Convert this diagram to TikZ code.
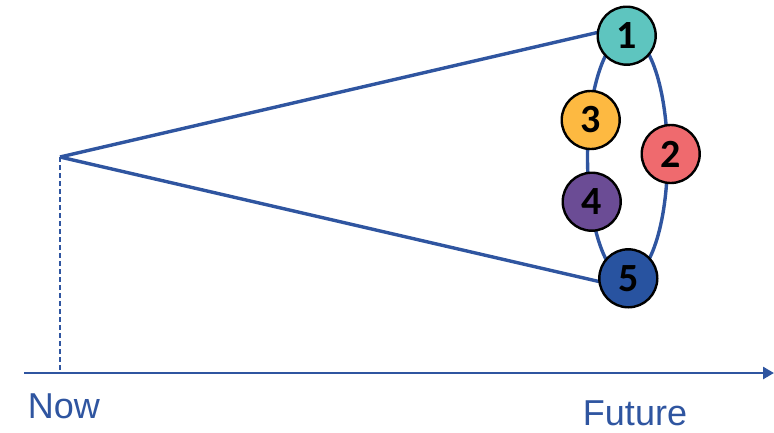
\documentclass[tikz,border=0pt]{standalone}
\usepackage{fontspec}
\setmainfont{Liberation Sans}
\newfontfamily\digitfont{Carlito}
\usetikzlibrary{arrows.meta,calc}

\definecolor{lineblue}{HTML}{2F55A0}
\definecolor{cteal}{HTML}{5EC5BF}
\definecolor{cyellow}{HTML}{FDB941}
\definecolor{cred}{HTML}{EF6A6E}
\definecolor{cpurple}{HTML}{6B4C95}
\definecolor{cnavy}{HTML}{2853A0}

\pgfdeclarelayer{back}
\pgfsetlayers{back,main}

\tikzset{
  scenario/.style={circle, draw=black, line width=2.4pt, minimum size=58pt,
    inner sep=0pt, fill=#1, text=black,
    font=\digitfont\bfseries\fontsize{40}{40}\selectfont},
  cone/.style={lineblue, line width=3.4pt},
  timeaxis/.style={lineblue, line width=2.6pt, -{Triangle[length=11pt,width=12pt]}},
  nowmark/.style={lineblue, line width=1.4pt, dash pattern=on 5pt off 3pt},
  axislabel/.style={text=lineblue, font=\fontsize{36}{36}\selectfont, anchor=base}
}

\begin{document}
\begin{tikzpicture}[x=1pt, y=-1pt]
  \useasboundingbox (0,0) rectangle (774,432);

  % time axis and the present moment
  \coordinate (axstart) at (24,373);
  \coordinate (axend) at (774,373);
  \coordinate (apex) at (60,157);
  \coordinate (nowfoot) at (60,373);

  % scenario nodes
  \node[scenario=cteal]   (n1) at (626.7,35.7)  {1};
  \node[scenario=cred]    (n2) at (670.7,154)   {2};
  \node[scenario=cyellow] (n3) at (590.7,120)   {3};
  \node[scenario=cpurple] (n4) at (591.7,201.7) {4};
  \node[scenario=cnavy]   (n5) at (628.3,278.3) {5};

  \coordinate (conetop) at ($(n1.center)+(0,-10)$);
  \coordinate (conebot) at ($(n5.center)+(0,10)$);
  \coordinate (fanmid) at ($(n1.center)!0.5!(n5.center)$);

  % cone and envelope of futures, beneath the nodes
  \begin{pgfonlayer}{back}
    \draw[cone] (fanmid) ellipse [x radius=40, y radius=121.3];
    \draw[cone] (apex) -- (conetop);
    \draw[cone] (apex) -- (conebot);
  \end{pgfonlayer}

  \draw[nowmark] (apex) -- (nowfoot);
  \draw[timeaxis] (axstart) -- (axend);

  \node[axislabel] (now) at (64,418) {Now};
  \node[axislabel] (future) at (635,425) {Future};
\end{tikzpicture}
\end{document}
